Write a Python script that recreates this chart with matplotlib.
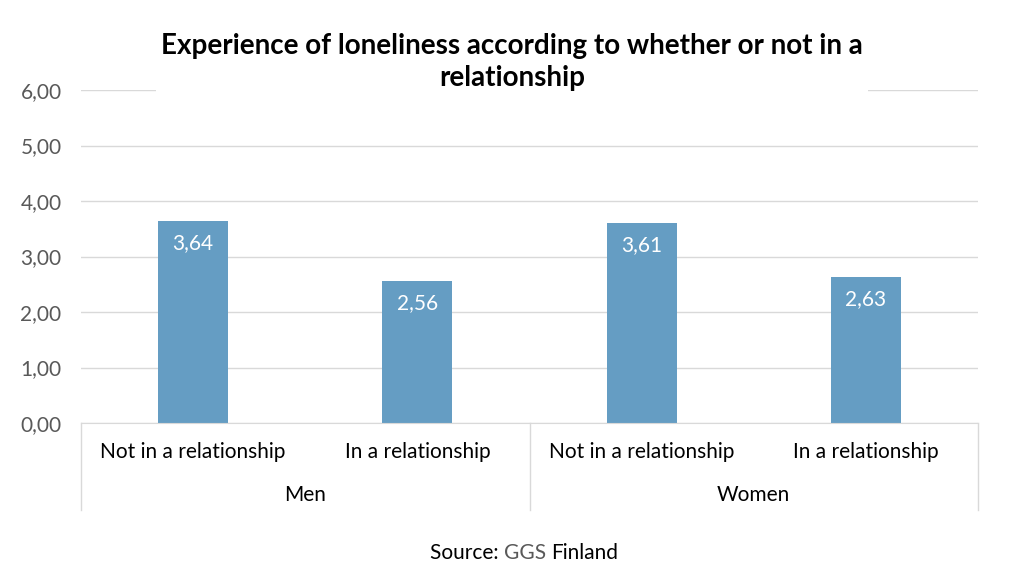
import matplotlib.pyplot as plt
from matplotlib.ticker import FuncFormatter

plt.rcParams["font.family"] = ["Lato", "DejaVu Sans"]

groups = ["Men", "Women"]
categories = ["Not in a relationship", "In a relationship",
              "Not in a relationship", "In a relationship"]
values = [3.64, 2.56, 3.61, 2.63]
yticks = [0, 1, 2, 3, 4, 5, 6]

bar_color = "#659DC3"
grid_color = "#D9D9D9"
text_gray = "#595959"
fs = 15

fig = plt.figure(figsize=(10.24, 5.8), dpi=100)
ax = fig.add_axes([0.0791, 0.2707, 0.876, 0.574])

x = list(range(len(values)))
bars = ax.bar(x, values, width=0.312, color=bar_color, zorder=2)
ax.set_xlim(-0.5, len(values) - 0.5)
ax.set_ylim(0, 6)
ax.set_yticks(yticks)
ax.yaxis.set_major_formatter(FuncFormatter(lambda v, p: f"{v:.2f}".replace(".", ",")))
ax.tick_params(axis="y", length=0, pad=14, labelsize=fs, labelcolor=text_gray)
ax.set_xticks([])
ax.grid(axis="y", color=grid_color, linewidth=1, zorder=0)
for s in ["top", "right", "left"]:
    ax.spines[s].set_visible(False)
ax.spines["bottom"].set_color(grid_color)
ax.spines["bottom"].set_zorder(3)

for b, v in zip(bars, values):
    ax.annotate(f"{v:.2f}".replace(".", ","), (b.get_x() + b.get_width() / 2, v),
                xytext=(0, -16), textcoords="offset points", ha="center", va="center",
                color="white", fontsize=fs)

# multi-level category axis
trans = ax.get_xaxis_transform()
for i, c in enumerate(categories):
    ax.text(i, -0.087, c, transform=trans, ha="center", va="center", fontsize=fs, color="black")
for g, name in enumerate(groups):
    ax.text(2 * g + 0.5, -0.217, name, transform=trans, ha="center", va="center", fontsize=fs, color="black")
for xs in [-0.5, 1.5, 3.5]:
    ax.plot([xs, xs], [0, -0.262], transform=trans, color=grid_color, linewidth=1, clip_on=False)

fig.text(0.5, 0.893, "Experience of loneliness according to whether or not in a\nrelationship",
         ha="center", va="center", fontsize=20, fontweight="bold", linespacing=1.25,
         bbox=dict(facecolor="white", edgecolor="none", pad=4))

# source line, with "GGS" in gray
fig.canvas.draw()
r = fig.canvas.get_renderer()
t1 = fig.text(0, 0.047, "Source: ", ha="left", va="center", fontsize=fs, color="black")
t2 = fig.text(0, 0.047, "GGS ", ha="left", va="center", fontsize=fs, color=text_gray)
t3 = fig.text(0, 0.047, "Finland", ha="left", va="center", fontsize=fs, color="black")
W = fig.bbox.width
w1 = t1.get_window_extent(r).width
w2 = t2.get_window_extent(r).width
w3 = t3.get_window_extent(r).width
x0 = 524 - (w1 + w2 + w3) / 2
t1.set_x(x0 / W)
t2.set_x((x0 + w1) / W)
t3.set_x((x0 + w1 + w2) / W)

fig.savefig("out.png", dpi=100)
